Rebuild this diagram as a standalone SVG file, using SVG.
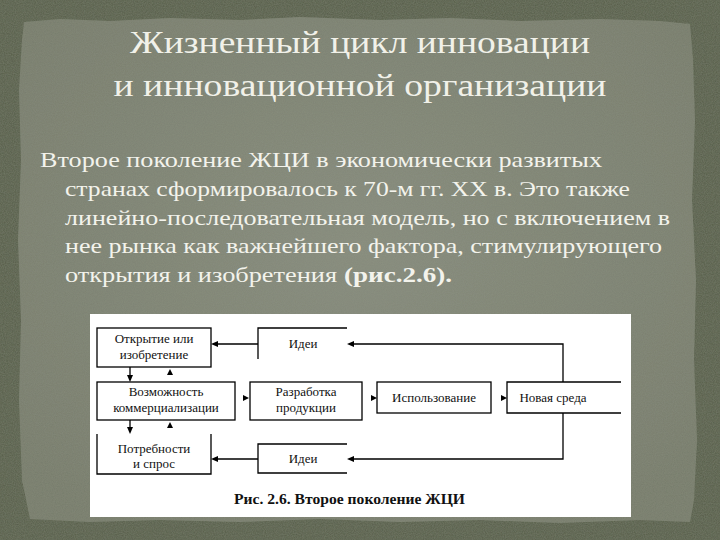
<svg xmlns="http://www.w3.org/2000/svg" width="720" height="540" viewBox="0 0 720 540">
<defs>
<style>
.title{font-family:"Liberation Serif","DejaVu Serif",serif;font-size:32px;fill:#f1f1e9;text-anchor:middle}
.body{font-family:"Liberation Serif","DejaVu Serif",serif;font-size:21.5px;fill:#f3f3ec}
.bold{font-weight:bold}
.lbl{font-family:"Liberation Serif","Times New Roman",serif;font-size:13px;fill:#111;text-anchor:middle}
.cap{font-family:"Liberation Serif","Times New Roman",serif;font-size:14px;font-weight:bold;fill:#111}
.box{fill:none;stroke:#000;stroke-width:1.3}
.ln{fill:none;stroke:#000;stroke-width:1.3}
.ah{fill:#000}
</style>
<radialGradient id="pg" cx="50%" cy="45%" r="65%">
<stop offset="0" stop-color="#878b7d"/>
<stop offset="1" stop-color="#777c6c"/>
</radialGradient>
<filter id="tex" x="0" y="0" width="100%" height="100%">
<feTurbulence type="fractalNoise" baseFrequency="0.9" numOctaves="2" seed="3" result="n"/>
<feColorMatrix in="n" type="matrix" values="0 0 0 0 0.3  0 0 0 0 0.33  0 0 0 0 0.25  0 0 0 0.35 0" result="c"/>
<feComposite in="c" in2="SourceGraphic" operator="in" result="m"/>
<feMerge><feMergeNode in="SourceGraphic"/><feMergeNode in="m"/></feMerge>
</filter>
</defs>

<g id="background">
<rect x="0" y="0" width="720" height="540" fill="#565d48" filter="url(#tex)"/>
<path d="M24 22 L60 19 L110 21 L170 18 L240 20 L300 17 L380 20 L450 18 L520 21 L600 19 L660 21 L690 24 L693 60 L695 120 L692 200 L696 280 L694 360 L697 440 L694 500 L690 522 L640 520 L560 523 L480 520 L400 522 L320 519 L240 522 L160 520 L90 522 L30 519 L22 480 L19 400 L21 320 L18 240 L21 160 L19 90 L22 40 Z" fill="url(#pg)" filter="url(#tex)"/>
</g>

<g id="title">
<text class="title" x="360" y="53" textLength="460" lengthAdjust="spacingAndGlyphs">Жизненный цикл инновации</text>
<text class="title" x="360" y="96" textLength="493" lengthAdjust="spacingAndGlyphs">и инновационной организации</text>
</g>

<g id="body-text">
<text class="body" x="40" y="167" textLength="562" lengthAdjust="spacingAndGlyphs">Второе поколение ЖЦИ в экономически развитых</text>
<text class="body" x="65" y="196" textLength="565" lengthAdjust="spacingAndGlyphs">странах сформировалось к 70-м гг. XX в. Это также</text>
<text class="body" x="65" y="225" textLength="605" lengthAdjust="spacingAndGlyphs">линейно-последовательная модель, но с включением в</text>
<text class="body" x="65" y="253" textLength="597" lengthAdjust="spacingAndGlyphs">нее рынка как важнейшего фактора, стимулирующего</text>
<text class="body" x="65" y="282" textLength="272" lengthAdjust="spacingAndGlyphs">открытия и изобретения</text>
<text class="body bold" x="344" y="282" textLength="108" lengthAdjust="spacingAndGlyphs">(рис.2.6).</text>
</g>

<g id="figure">
<rect x="90" y="314" width="541" height="203" fill="#ffffff"/>
</g>

<g id="node-otkrytie">
<rect class="box" x="97" y="328" width="114" height="39"/>
<text class="lbl" x="154" y="343">Открытие или</text>
<text class="lbl" x="154" y="359">изобретение</text>
</g>

<g id="node-idei-top">
<path class="box" d="M258 359 V328 H347"/>
<text class="lbl" x="303" y="348">Идеи</text>
</g>

<g id="node-vozmozhnost">
<rect class="box" x="97" y="382" width="138" height="38"/>
<text class="lbl" x="166" y="396">Возможность</text>
<text class="lbl" x="166" y="412">коммерциализации</text>
</g>

<g id="node-razrabotka">
<rect class="box" x="250" y="382" width="112" height="38"/>
<text class="lbl" x="306" y="396">Разработка</text>
<text class="lbl" x="306" y="412">продукции</text>
</g>

<g id="node-ispolzovanie">
<rect class="box" x="377" y="382" width="114" height="31"/>
<text class="lbl" x="434" y="402">Использование</text>
</g>

<g id="node-novaya-sreda">
<path class="box" d="M621 382 H507 V413 H621"/>
<text class="lbl" x="553" y="402">Новая среда</text>
</g>

<g id="node-potrebnosti">
<path class="box" d="M97 434 V474 H211 V434"/>
<text class="lbl" x="154" y="453">Потребности</text>
<text class="lbl" x="154" y="468">и спрос</text>
</g>

<g id="node-idei-bottom">
<path class="box" d="M347 444 H258 V473 H347"/>
<text class="lbl" x="303" y="463">Идеи</text>
</g>

<g id="caption">
<text class="cap" x="234" y="504" textLength="231" lengthAdjust="spacingAndGlyphs">Рис. 2.6. Второе поколение ЖЦИ</text>
</g>

<g id="connectors">
<path class="ln" d="M563 382 V344 H353"/>
<polygon class="ah" points="347,344 354,341 354,347"/>
<path class="ln" d="M258 344 H217"/>
<polygon class="ah" points="211,344 218,341 218,347"/>
<path class="ln" d="M563 413 V459 H353"/>
<polygon class="ah" points="347,459 354,456 354,462"/>
<path class="ln" d="M258 459 H217"/>
<polygon class="ah" points="211,459 218,456 218,462"/>
<polygon class="ah" points="249,398 243,395 243,401"/>
<polygon class="ah" points="377,398 371,395 371,401"/>
<polygon class="ah" points="507,398 501,395 501,401"/>
<path class="ln" d="M130 367 V376"/>
<polygon class="ah" points="130,382 127,375 133,375"/>
<polygon class="ah" points="170,369 167,375 173,375"/>
<path class="ln" d="M130 420 V428"/>
<polygon class="ah" points="130,434 127,427 133,427"/>
<polygon class="ah" points="170,422 167,428 173,428"/>
</g>
</svg>
